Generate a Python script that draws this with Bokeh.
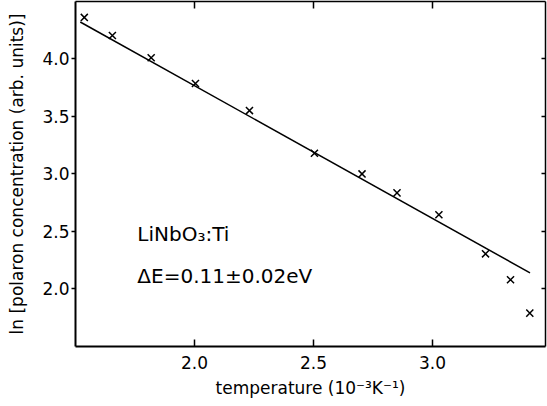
from bokeh.plotting import figure
from bokeh.models import LinearAxis, FixedTicker, Range1d, ColumnDataSource, Label, PrintfTickFormatter
from bokeh.embed import file_html
from bokeh.resources import INLINE

# data
temp = [1.537, 1.655, 1.818, 2.004, 2.231, 2.504, 2.704, 2.851, 3.027, 3.223, 3.328, 3.409]
ln_conc = [4.36, 4.203, 4.009, 3.785, 3.55, 3.179, 3.0, 2.835, 2.645, 2.305, 2.08, 1.79]
fit_temp = [1.52, 3.41]
fit_ln = [4.32, 2.14]
x_ticks = [2.0, 2.5, 3.0]
y_ticks = [2.0, 2.5, 3.0, 3.5, 4.0]
label_material = "LiNbO₃:Ti"
label_energy = "ΔE=0.11±0.02eV"
x_title = "temperature (10⁻³K⁻¹)"
y_title = "ln [polaron concentration (arb. units)]"

FONT = "DejaVu Sans"

p = figure(width=547, height=406,
           x_range=Range1d(1.5, 3.475), y_range=Range1d(1.5, 4.498),
           output_backend="svg", toolbar_location=None,
           min_border_left=75, min_border_right=2, min_border_top=1,
           min_border_bottom=60)
p.background_fill_color = "white"
p.border_fill_color = "white"
p.outline_line_color = None
p.xgrid.visible = False
p.ygrid.visible = False

# bottom axis
xa = p.xaxis[0]
xa.ticker = FixedTicker(ticks=x_ticks)
xa.formatter = PrintfTickFormatter(format="%.1f")
xa.major_tick_in = 7
xa.major_tick_out = 0
xa.minor_tick_line_color = None
xa.axis_line_width = 2
xa.major_tick_line_width = 1.5
xa.major_label_text_font = FONT
xa.major_label_text_font_size = "17px"
xa.major_label_text_color = "black"
xa.major_label_standoff = 9
xa.axis_label = x_title
xa.axis_label_text_font = FONT
xa.axis_label_text_font_size = "17px"
xa.axis_label_text_font_style = "normal"
xa.axis_label_text_color = "black"
xa.axis_label_standoff = 6

# left axis
ya = p.yaxis[0]
ya.ticker = FixedTicker(ticks=y_ticks)
ya.formatter = PrintfTickFormatter(format="%.1f")
ya.major_tick_in = 0
ya.major_tick_out = 4
ya.minor_tick_line_color = None
ya.axis_line_width = 2
ya.major_tick_line_width = 1.5
ya.major_label_text_font = FONT
ya.major_label_text_font_size = "17px"
ya.major_label_text_color = "black"
ya.major_label_standoff = 2
ya.axis_label = y_title
ya.axis_label_text_font = FONT
ya.axis_label_text_font_size = "17px"
ya.axis_label_text_font_style = "normal"
ya.axis_label_text_color = "black"
ya.axis_label_standoff = 12

# top and right frame axes with inward ticks, no labels
top = LinearAxis(ticker=FixedTicker(ticks=x_ticks), major_tick_in=7, major_tick_out=0,
                 major_label_overrides={t: "" for t in x_ticks}, major_label_standoff=0,
                 minor_tick_line_color=None, axis_line_width=1.5,
                 major_tick_line_width=1.5)
p.add_layout(top, "above")
right = LinearAxis(ticker=FixedTicker(ticks=y_ticks), major_tick_in=4, major_tick_out=0,
                   major_label_overrides={t: "" for t in y_ticks}, major_label_standoff=0,
                   minor_tick_line_color=None, axis_line_width=1.5,
                   major_tick_line_width=1.5)
p.add_layout(right, "right")

# fit line and data
p.line(fit_temp, fit_ln, line_color="black", line_width=1.5)
src = ColumnDataSource(dict(x=temp, y=ln_conc))
p.scatter("x", "y", source=src, marker="x", size=10, line_color="black", line_width=1.5)

p.add_layout(Label(x=1.76, y=2.48, text=label_material, text_font=FONT,
                   text_font_size="20px", text_color="black", text_baseline="alphabetic"))
p.add_layout(Label(x=1.76, y=2.116, text=label_energy, text_font=FONT,
                   text_font_size="20px", text_color="black", text_baseline="alphabetic"))

open("out.html", "w").write(file_html(p, INLINE))
